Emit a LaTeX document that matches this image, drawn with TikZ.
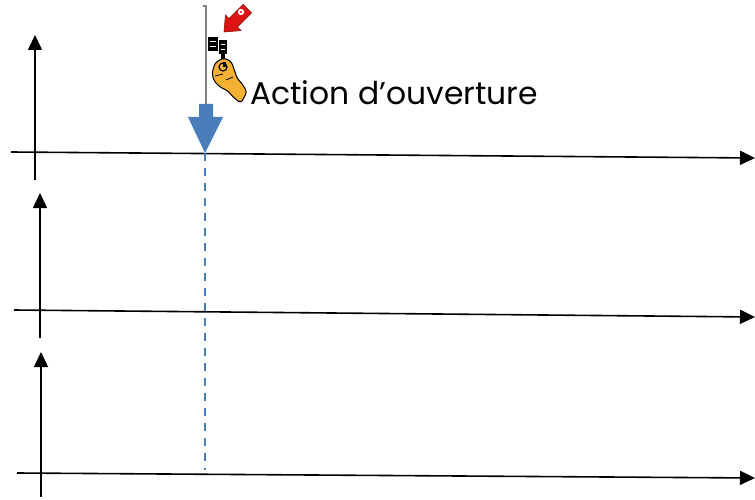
\documentclass[tikz,border=0pt]{standalone}
\usepackage{fontspec}
\setmainfont{Poppins}
\usetikzlibrary{arrows.meta}
\definecolor{signalblue}{RGB}{74,126,187}
\definecolor{handorange}{RGB}{245,178,50}
\definecolor{tagred}{RGB}{220,20,20}
\begin{document}
\begin{tikzpicture}[x=1pt,y=-1pt,
  axis/.style={line width=1.6pt,-{Triangle[length=15pt,width=14pt]}},
  marker/.style={signalblue,line width=1.4pt,dash pattern=on 8pt off 7pt},
  label/.style={font=\fontsize{31.4}{34}\selectfont,anchor=base west,inner sep=0pt}]
\useasboundingbox (0,0) rectangle (755,500);

% three time axes
\coordinate (h1a) at (11,152);  \coordinate (h1b) at (755,158);
\coordinate (v1a) at (35,180);  \coordinate (v1b) at (35,35);
\coordinate (h2a) at (14,310);  \coordinate (h2b) at (755,317);
\coordinate (v2a) at (40,338);  \coordinate (v2b) at (40,193);
\coordinate (h3a) at (17,473);  \coordinate (h3b) at (755,478);
\coordinate (v3a) at (41,497);  \coordinate (v3b) at (41,352);
\draw[axis] (h1a) -- (h1b);
\draw[axis] (v1a) -- (v1b);
\draw[axis] (h2a) -- (h2b);
\draw[axis] (v2a) -- (v2b);
\draw[axis] (h3a) -- (h3b);
\draw[axis] (v3a) -- (v3b);

% instant of the opening action
\coordinate (t0) at (205,153);
\coordinate (t0end) at (205,470);
\draw[marker] (t0) -- (t0end);

% thick blue arrow pointing at the instant
\fill[signalblue] (199,104) -- (213,104) -- (213,117) -- (223,117)
  -- (t0) -- (188,117) -- (199,117) -- cycle;

% switch: pole, contact blocks, hand and red tag
\draw[gray,line width=1.3pt] (203,6) -- (206,6) -- (206,104);
\fill[black] (208,37) rectangle (218,51);
\fill[black] (219,40) rectangle (227,54);
\fill[black] (221,54) rectangle (225,62);
\draw[white,line width=0.7pt] (210,41) -- (216,41) (210,46) -- (216,46)
  (221,44) -- (225,44) (221,49) -- (225,49);
\filldraw[fill=handorange,draw=black,line width=1pt,rounded corners=3pt]
  (212,73) -- (215,63) -- (223,58) -- (231,61) -- (234,69) -- (237,78)
  -- (243,85) -- (247,92) -- (241,103) -- (234,98) -- (228,91)
  -- (220,87) -- (214,81) -- cycle;
\filldraw[fill=handorange,draw=black,line width=1.2pt] (223,67) circle (4pt);
\fill[black] (223,62) rectangle (226,67);
\draw[black,line width=0.8pt] (215,76) -- (223,74) (226,80) -- (233,77);
\filldraw[fill=tagred,draw=tagred!70!black,line width=0.6pt]
  (224,32) -- (225.4,15) -- (229,18.6) -- (243.1,4.5) -- (251.5,12.9)
  -- (237.4,27) -- (241,30.6) -- cycle;
\fill[white] (241,12) circle (3.2pt);
\fill[tagred] (241,12) circle (1.2pt);

% label
\node[label] (lbl) at (250,105) {Action d’ouverture};
\end{tikzpicture}
\end{document}
